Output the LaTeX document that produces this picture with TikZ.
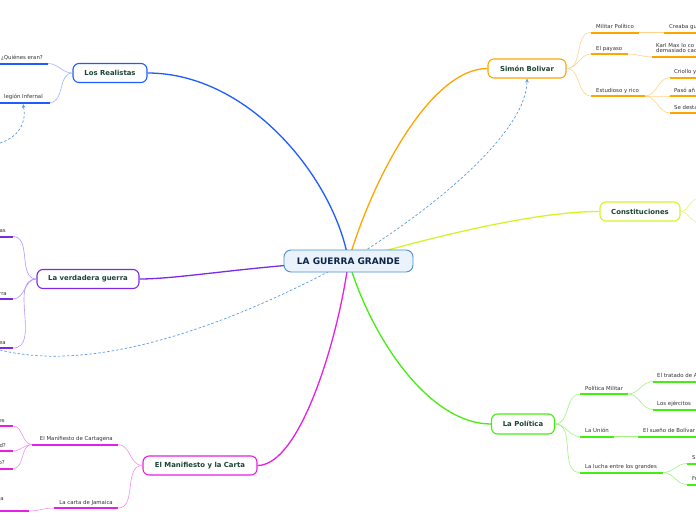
\documentclass[tikz,border=0pt]{standalone}
\usepackage{fontspec}
\setmainfont{DejaVu Sans}
\usetikzlibrary{arrows.meta,backgrounds}
\definecolor{blueM}{HTML}{1F5CFF}
\definecolor{blueL}{HTML}{9DB8FF}
\definecolor{purpM}{HTML}{7A2BE8}
\definecolor{purpL}{HTML}{B895FF}
\definecolor{magM}{HTML}{E61EE6}
\definecolor{magL}{HTML}{F291F2}
\definecolor{orgM}{HTML}{FFA500}
\definecolor{orgL}{HTML}{FFD28A}
\definecolor{ylwM}{HTML}{D2F52A}
\definecolor{ylwL}{HTML}{E4F87A}
\definecolor{grnM}{HTML}{44EE11}
\definecolor{grnL}{HTML}{A2F383}
\definecolor{ctrline}{HTML}{4A90D0}
\definecolor{ctrfill}{HTML}{EAF3FB}
\definecolor{ctrtxt}{HTML}{0B2447}
\definecolor{titletxt}{HTML}{1B4332}
\definecolor{lbltxt}{HTML}{333333}
\definecolor{relc}{HTML}{5A9BE0}
\tikzset{
  title/.style={draw, rounded corners=6pt, fill=white, line width=1.1pt, minimum height=19pt, inner sep=0pt, font=\fontsize{6.9}{8}\selectfont\bfseries, text=titletxt},
  lbl/.style={inner sep=0pt, font=\fontsize{5.4}{6.4}\selectfont, text=lbltxt},
  mainln/.style={line width=1.3pt},
  subln/.style={line width=0.6pt},
  ul/.style={line width=2pt},
  rel/.style={dash pattern=on 2.5pt off 2pt, line width=0.7pt, draw=relc},
  lr/.style={out=0,in=180},
  rl/.style={out=180,in=0},
}
\begin{document}
\begin{tikzpicture}[x=1pt,y=-1pt]
\useasboundingbox (0,0) rectangle (696,520);
\clip (0,0) rectangle (696,520);

% main nodes
\node[draw=ctrline, fill=ctrfill, line width=0.9pt, rounded corners=7pt, minimum width=129pt, minimum height=22pt, inner sep=0pt, font=\fontsize{9}{10}\selectfont\bfseries, text=ctrtxt] (ctr) at (348.5,261) {LA GUERRA GRANDE};
\node[title, draw=blueM, minimum width=74pt] (rlz) at (110,73) {Los Realistas};
\node[title, draw=purpM, minimum width=102pt] (vg) at (88,279) {La verdadera guerra};
\node[title, draw=magM, minimum width=114pt] (mc) at (200,465.5) {El Manifiesto y la Carta};
\node[title, draw=orgM, minimum width=78pt] (sb) at (527,68.5) {Simón Bolivar};
\node[title, draw=ylwM, minimum width=80pt] (cn) at (640,211.5) {Constituciones};
\node[title, draw=grnM, minimum width=63pt, minimum height=20pt] (lp) at (523,424) {La Política};

% ---------- Los Realistas children
\coordinate (q1a) at (0,63.5); \coordinate (q1b) at (48,63.5);
\node[lbl, anchor=base east] (q1t) at (43,59.5) {¿Quiénes eran?};
\coordinate (q2a) at (0,102.5); \coordinate (q2b) at (50,102.5);
\node[lbl, anchor=base east] (q2t) at (43,98.5) {legión Infernal};
\coordinate (q2arr) at (23,104);
\coordinate (rs) at (0,143);
\draw[ul, blueM] (q1a) -- (q1b);
\draw[ul, blueM] (q2a) -- (q2b);
\draw[subln, blueL] (rlz.west) to[rl] (q1b);
\draw[subln, blueL] (rlz.west) to[rl] (q2b);

% ---------- La verdadera guerra children
\coordinate (v1a) at (0,236.5); \coordinate (v1b) at (13,236.5);
\node[lbl, anchor=base east] (v1t) at (6,232.5) {as};
\coordinate (v2a) at (0,299); \coordinate (v2b) at (13,299);
\node[lbl, anchor=base east] (v2t) at (7,295) {rra};
\coordinate (v3a) at (0,348); \coordinate (v3b) at (13,348);
\node[lbl, anchor=base east] (v3t) at (6,344) {ea};
\foreach \i in {1,2,3}{
  \draw[ul, purpM] (v\i a) -- (v\i b);
  \draw[subln, purpL] (vg.west) to[rl] (v\i b);
}

% ---------- El Manifiesto y la Carta children
\coordinate (m1a) at (32,444.5); \coordinate (m1b) at (118,444.5);
\node[lbl, anchor=base east] (m1t) at (113,440.5) {El Manifiesto de Cartagena};
\coordinate (m2a) at (54,508); \coordinate (m2b) at (118,508);
\node[lbl, anchor=base east] (m2t) at (113,504) {La carta de Jamaica};
\coordinate (m11a) at (0,426); \coordinate (m11b) at (13,426);
\node[lbl, anchor=base east] (m11t) at (5,422) {es};
\coordinate (m12a) at (0,451); \coordinate (m12b) at (13,451);
\node[lbl, anchor=base east] (m12t) at (6,447) {d?};
\coordinate (m13a) at (0,468.5); \coordinate (m13b) at (13,468.5);
\node[lbl, anchor=base east] (m13t) at (5,464.5) {o?};
\coordinate (m21a) at (0,511); \coordinate (m21b) at (29,511);
\node[lbl, anchor=base east] (m21t) at (4,500) {a};
\foreach \c in {m1,m2,m11,m12,m13,m21}{\draw[ul, magM] (\c a) -- (\c b);}
\draw[subln, magL] (mc.west) to[rl] (m1b);
\draw[subln, magL] (mc.west) to[rl] (m2b);
\draw[subln, magL] (m1a) to[rl] (m11b);
\draw[subln, magL] (m1a) to[rl] (m12b);
\draw[subln, magL] (m1a) to[rl] (m13b);
\draw[subln, magL] (m2a) to[rl] (m21b);

% ---------- Simón Bolivar children
\coordinate (s1a) at (591,32.5); \coordinate (s1b) at (639,32.5);
\node[lbl, anchor=base west] (s1t) at (596,28.5) {Militar Político};
\coordinate (s11a) at (664,32.5); \coordinate (s11b) at (696,32.5);
\node[lbl, anchor=base west] (s11t) at (669,28.5) {Creaba gu};
\coordinate (s2a) at (591,54); \coordinate (s2b) at (628,54);
\node[lbl, anchor=base west] (s2t) at (596,50) {El payaso};
\coordinate (s21a) at (652,57); \coordinate (s21b) at (696,57);
\node[lbl, anchor=south west, align=left, font=\fontsize{5.4}{5.8}\selectfont] (s21t) at (656,53.2) {Karl Max lo co\\demasiado cac};
\coordinate (s3a) at (591,96); \coordinate (s3b) at (645,96);
\node[lbl, anchor=base west] (s3t) at (596,92) {Estudioso y rico};
\coordinate (s31a) at (670,77.5); \coordinate (s31b) at (696,77.5);
\node[lbl, anchor=base west] (s31t) at (674,73.5) {Criollo y};
\coordinate (s32a) at (670,96); \coordinate (s32b) at (696,96);
\node[lbl, anchor=base west] (s32t) at (674,92) {Pasó añ};
\coordinate (s33a) at (670,113); \coordinate (s33b) at (696,113);
\node[lbl, anchor=base west] (s33t) at (674,109) {Se desta};
\foreach \c in {s1,s11,s2,s21,s3,s31,s32,s33}{\draw[ul, orgM] (\c a) -- (\c b);}
\draw[subln, orgL] (sb.east) to[lr] (s1a);
\draw[subln, orgL] (sb.east) to[lr] (s2a);
\draw[subln, orgL] (sb.east) to[lr] (s3a);
\draw[subln, orgL] (s1b) -- (s11a);
\draw[subln, orgL] (s2b) to[lr] (s21a);
\draw[subln, orgL] (s3b) to[lr] (s31a);
\draw[subln, orgL] (s3b) to[lr] (s32a);
\draw[subln, orgL] (s3b) to[lr] (s33a);

% ---------- Constituciones children (off page)
\coordinate (cnu) at (696,199);
\coordinate (cnd) at (696,222);
\draw[subln, ylwL] (cn.east) to[out=0,in=200] (cnu);
\draw[subln, ylwL] (cn.east) to[out=0,in=160] (cnd);

% ---------- La Política children
\coordinate (p1a) at (580,394); \coordinate (p1b) at (628,394);
\node[lbl, anchor=base west] (p1t) at (585,390) {Política Militar};
\coordinate (p11a) at (653,381.5); \coordinate (p11b) at (696,381.5);
\node[lbl, anchor=base west] (p11t) at (657,377.5) {El tratado de A};
\coordinate (p12a) at (653,409.5); \coordinate (p12b) at (696,409.5);
\node[lbl, anchor=base west] (p12t) at (657,405.5) {Los ejércitos};
\coordinate (p2a) at (580,436.5); \coordinate (p2b) at (614,436.5);
\node[lbl, anchor=base west] (p2t) at (585,432.5) {La Unión};
\coordinate (p21a) at (638,436.5); \coordinate (p21b) at (696,436.5);
\node[lbl, anchor=base west] (p21t) at (643,432.5) {El sueño de Bolívar};
\coordinate (p3a) at (580,472.5); \coordinate (p3b) at (663,472.5);
\node[lbl, anchor=base west] (p3t) at (585,468.5) {La lucha entre los grandes};
\coordinate (p31a) at (687,463.5); \coordinate (p31b) at (696,463.5);
\node[lbl, anchor=base west] (p31t) at (692,459.5) {Si};
\coordinate (p32a) at (687,484.5); \coordinate (p32b) at (696,484.5);
\node[lbl, anchor=base west] (p32t) at (692,480.5) {Fr};
\foreach \c in {p1,p11,p12,p2,p21,p3,p31,p32}{\draw[ul, grnM] (\c a) -- (\c b);}
\draw[subln, grnL] (lp.east) to[lr] (p1a);
\draw[subln, grnL] (lp.east) to[lr] (p2a);
\draw[subln, grnL] (lp.east) to[lr] (p3a);
\draw[subln, grnL] (p1b) to[lr] (p11a);
\draw[subln, grnL] (p1b) to[lr] (p12a);
\draw[subln, grnL] (p2b) -- (p21a);
\draw[subln, grnL] (p3b) to[lr] (p31a);
\draw[subln, grnL] (p3b) to[lr] (p32a);

% ---------- main connectors and relations (behind)
\coordinate (dl) at (0,350);
\begin{scope}[on background layer]
\fill[white] (0,0) rectangle (696,520);
\draw[mainln, blueM] (ctr.center) .. controls (335,180) and (250,73) .. (rlz.east);
\draw[mainln, orgM] (ctr.center) .. controls (372,180) and (430,68.5) .. (sb.west);
\draw[mainln, ylwM] (ctr.center) .. controls (450,232) and (540,211.5) .. (cn.west);
\draw[mainln, purpM] (ctr.center) .. controls (250,266) and (180,279) .. (vg.east);
\draw[mainln, magM] (ctr.center) .. controls (338,340) and (300,465.5) .. (mc.east);
\draw[mainln, grnM] (ctr.center) .. controls (372,340) and (430,424) .. (lp.west);
\draw[rel, -{Stealth[length=4pt,width=3.5pt]}] (ctr.center) .. controls (440,205) and (527,130) .. (sb.south);
\draw[rel] (ctr.center) .. controls (240,320) and (100,375) .. (dl);
\end{scope}
\draw[rel, -{Stealth[length=4pt,width=3.5pt]}] (rs) .. controls (18,137) and (27,124) .. (q2arr);
\end{tikzpicture}
\end{document}
